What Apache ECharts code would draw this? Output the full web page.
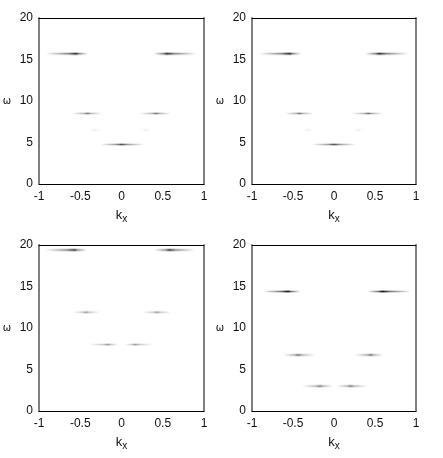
<!DOCTYPE html>
<html lang="en">
<head>
    <meta charset="UTF-8">
    <title>spectral function</title>
    <script type="text/javascript" src="https://cdn.jsdelivr.net/npm/echarts@6/dist/echarts.min.js"></script>
    <style>
        html, body { margin: 0; padding: 0; background: #fff; }
        #chart { width: 443px; height: 458px; }
    </style>
</head>
<body>
<div id="chart"></div>
<script type="text/javascript">
    // axis ticks
    var kTicks = [-1, -0.5, 0, 0.5, 1];
    var wTicks = [0, 5, 10, 15, 20];

    // each dash: [k start, k of peak, k end, omega, peak weight]
    var panelA = [
        [-0.92, -0.55, -0.41, 15.7, 0.9],
        [0.39, 0.55, 0.91, 15.7, 0.9],
        [-0.60, -0.41, -0.24, 8.5, 0.45],
        [0.22, 0.42, 0.60, 8.5, 0.45],
        [-0.41, -0.32, -0.23, 6.5, 0.07],
        [0.22, 0.30, 0.36, 6.5, 0.07],
        [-0.26, 0.0, 0.28, 4.75, 0.6]
    ];
    var panelB = [
        [-0.91, -0.54, -0.40, 15.7, 0.9],
        [0.38, 0.55, 0.91, 15.7, 0.9],
        [-0.60, -0.42, -0.25, 8.5, 0.45],
        [0.21, 0.42, 0.60, 8.5, 0.45],
        [-0.40, -0.32, -0.23, 6.5, 0.07],
        [0.22, 0.30, 0.36, 6.5, 0.07],
        [-0.27, 0.0, 0.27, 4.75, 0.6]
    ];
    var panelC = [
        [-0.93, -0.57, -0.42, 19.4, 0.85],
        [0.40, 0.58, 0.89, 19.4, 0.85],
        [-0.59, -0.43, -0.26, 11.9, 0.35],
        [0.26, 0.43, 0.60, 11.9, 0.35],
        [-0.39, -0.16, -0.04, 8.0, 0.35],
        [0.04, 0.16, 0.38, 8.0, 0.35]
    ];
    var panelD = [
        [-0.87, -0.56, -0.41, 14.4, 0.9],
        [0.41, 0.59, 0.94, 14.4, 0.9],
        [-0.62, -0.44, -0.23, 6.75, 0.55],
        [0.25, 0.45, 0.60, 6.75, 0.55],
        [-0.39, -0.17, -0.01, 3.0, 0.5],
        [0.03, 0.20, 0.41, 3.0, 0.5]
    ];

    var panels = [panelA, panelB, panelC, panelD];
    var grids = [
        {left: 39, top: 18, width: 165, height: 166},
        {left: 252, top: 18, width: 164, height: 166},
        {left: 39, top: 245, width: 165, height: 166},
        {left: 252, top: 245, width: 164, height: 166}
    ];

    var labelFont = {color: '#111', fontFamily: 'Liberation Sans', fontSize: 12};

    function fade(a, f) {
        var g = (1 - f);
        return new echarts.graphic.LinearGradient(0, 0, 1, 0, [
            {offset: 0, color: 'rgba(0,0,0,0)'},
            {offset: f * 0.35, color: 'rgba(0,0,0,' + (a * 0.22) + ')'},
            {offset: f * 0.75, color: 'rgba(0,0,0,' + (a * 0.5) + ')'},
            {offset: f, color: 'rgba(0,0,0,' + a + ')'},
            {offset: f + g * 0.25, color: 'rgba(0,0,0,' + (a * 0.5) + ')'},
            {offset: f + g * 0.65, color: 'rgba(0,0,0,' + (a * 0.22) + ')'},
            {offset: 1, color: 'rgba(0,0,0,0)'}
        ]);
    }

    function renderDash(params, api) {
        var w = api.value(3), a = api.value(4);
        var p0 = api.coord([api.value(0), w]);
        var pp = api.coord([api.value(1), w]);
        var p1 = api.coord([api.value(2), w]);
        var len = p1[0] - p0[0];
        var f = (pp[0] - p0[0]) / len;
        return {
            type: 'group',
            children: [
                {type: 'rect', shape: {x: p0[0], y: p0[1] - 1.5, width: len, height: 3},
                    style: {fill: fade(a * 0.4, f)}},
                {type: 'rect', shape: {x: p0[0], y: p0[1] - 0.5, width: len, height: 1},
                    style: {fill: fade(a, f)}}
            ]
        };
    }

    var xAxes = [], yAxes = [], series = [];
    for (var i = 0; i < 4; i++) {
        xAxes.push({
            gridIndex: i, type: 'value', min: kTicks[0], max: kTicks[kTicks.length - 1], interval: 0.5,
            axisLine: {onZero: false, lineStyle: {color: '#000', width: 1}},
            axisTick: {show: false}, splitLine: {show: false},
            axisLabel: Object.assign({margin: 7}, labelFont),
            name: '{k|k}{s|x}', nameLocation: 'middle', nameGap: 22,
            nameTextStyle: {
                rich: {
                    k: {fontFamily: 'Liberation Sans', fontSize: 13, color: '#111'},
                    s: {fontFamily: 'Liberation Sans', fontSize: 10, color: '#111', padding: [8, 0, 0, 0]}
                }
            }
        });
        xAxes.push({
            gridIndex: i, type: 'value', position: 'top', min: -1, max: 1,
            axisLine: {onZero: false, lineStyle: {color: '#000', width: 1}},
            axisTick: {show: false}, axisLabel: {show: false}, splitLine: {show: false}
        });
        yAxes.push({
            gridIndex: i, type: 'value', min: wTicks[0], max: wTicks[wTicks.length - 1], interval: 5,
            axisLine: {onZero: false, lineStyle: {color: '#808080', width: 2}},
            axisTick: {show: false}, splitLine: {show: false},
            axisLabel: Object.assign({margin: 6}, labelFont),
            name: 'ω', nameLocation: 'middle', nameRotate: 0, nameGap: 28,
            nameTextStyle: {fontFamily: 'DejaVu Sans', fontSize: 10, color: '#111'}
        });
        yAxes.push({
            gridIndex: i, type: 'value', position: 'right', min: 0, max: 20,
            axisLine: {onZero: false, lineStyle: {color: '#808080', width: 2}},
            axisTick: {show: false}, axisLabel: {show: false}, splitLine: {show: false}
        });
        series.push({
            type: 'custom', xAxisIndex: i * 2, yAxisIndex: i * 2,
            renderItem: renderDash, encode: {x: [0, 1, 2], y: 3},
            silent: true, clip: true,
            data: panels[i]
        });
    }

    var chart = echarts.init(document.getElementById('chart'));
    chart.setOption({
        animation: false,
        backgroundColor: '#fff',
        grid: grids,
        xAxis: xAxes,
        yAxis: yAxes,
        series: series
    });
</script>
</body>
</html>
